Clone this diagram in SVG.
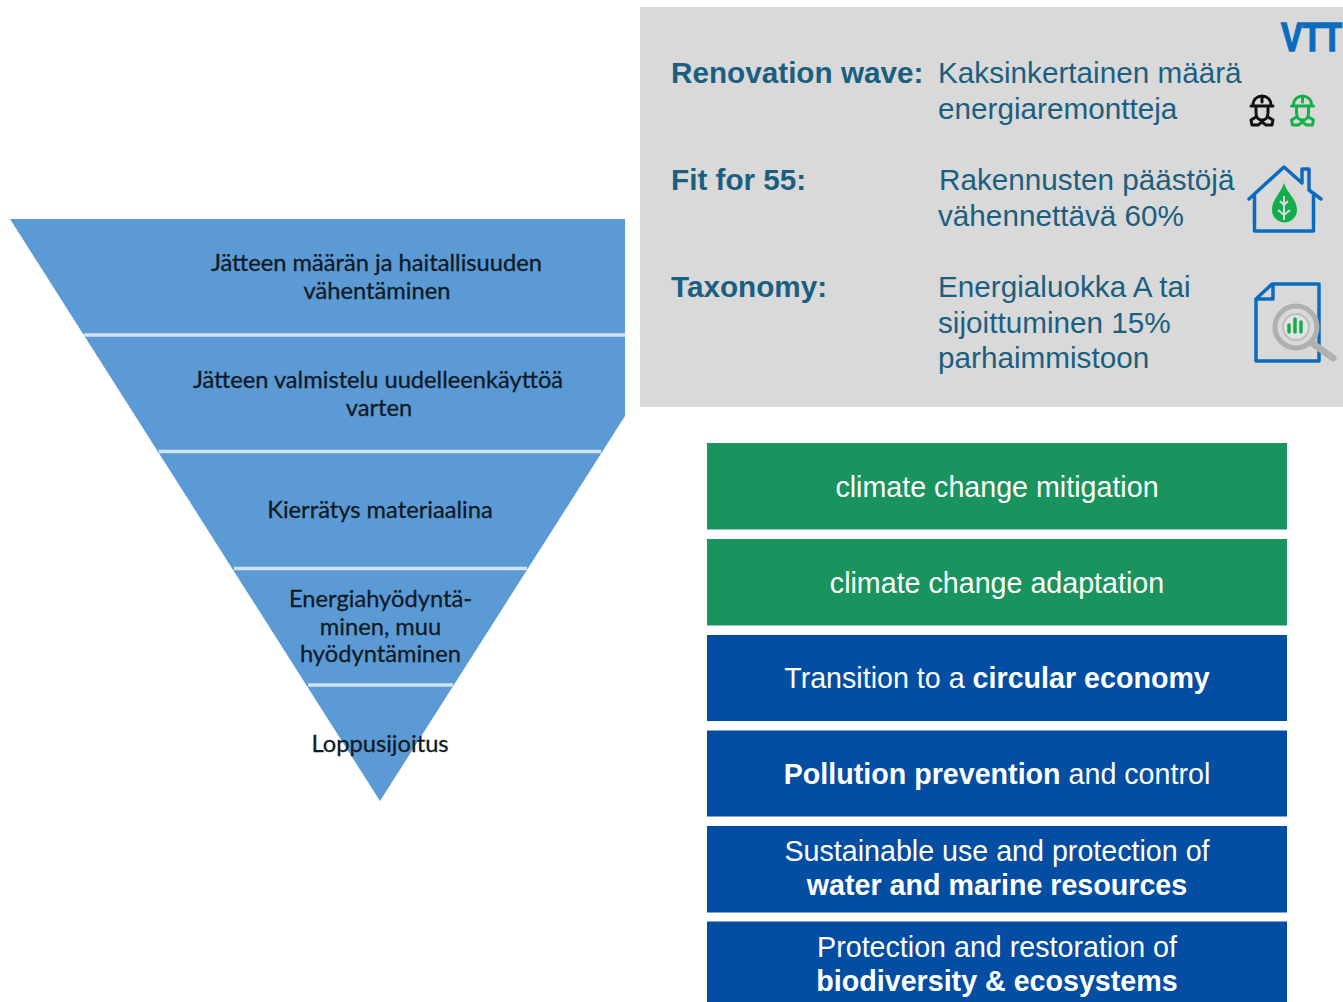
<svg xmlns="http://www.w3.org/2000/svg" width="1343" height="1002" viewBox="0 0 1343 1002">
<style>
.pt{font-family:"Lato","Open Sans",sans-serif;font-size:23.700px;fill:#0f1a24;stroke:#0f1a24;stroke-width:.3;text-anchor:middle}
.h{font-family:"Liberation Sans",Arial,sans-serif;font-size:29.700px;font-weight:700;fill:#1b5f80}
.b{font-family:"Liberation Sans",Arial,sans-serif;font-size:29.700px;fill:#1b5f80}
.w{font-family:"Liberation Sans",Arial,sans-serif;font-size:28.650px;fill:#fff;text-anchor:middle}
.w tspan.s{font-weight:700}
.g{fill:#19945f}.d{fill:#034ea2}
.sep{stroke:#d2e2f2;stroke-width:3.500;fill:none}
.ic{fill:none;stroke:#0b6cbd;stroke-width:3.500;stroke-linejoin:round;stroke-linecap:round}
</style>
<rect width="1343" height="1002" fill="#fff"/>
<g id="pyramid">
<polygon points="10,219 625,219 625,416 380,801" fill="#5b9ad5"/>
<line class="sep" x1="84" y1="335" x2="625" y2="335"/>
<line class="sep" x1="159" y1="451.500" x2="601" y2="451.500"/>
<line class="sep" x1="234" y1="568.500" x2="527" y2="568.500"/>
<line class="sep" x1="308" y1="685" x2="453" y2="685"/>
<text class="pt" x="376.500" y="271">Jätteen määrän ja haitallisuuden</text>
<text class="pt" x="377" y="298.500">vähentäminen</text>
<text class="pt" x="378" y="388">Jätteen valmistelu uudelleenkäyttöä</text>
<text class="pt" x="379" y="415.500">varten</text>
<text class="pt" x="380" y="518">Kierrätys materiaalina</text>
<text class="pt" x="380.500" y="607">Energiahyödyntä-</text>
<text class="pt" x="380.500" y="634.500">minen, muu</text>
<text class="pt" x="380.500" y="662">hyödyntäminen</text>
<text class="pt" x="380" y="751.500">Loppusijoitus</text>
</g>
<g id="policy-panel">
<rect x="640" y="7" width="703" height="400" fill="#d9d9d9"/>
<text x="1281" y="51" font-family="Liberation Sans,Arial,sans-serif" font-size="40" font-weight="700" fill="#0b6cbd" textLength="61" lengthAdjust="spacingAndGlyphs" stroke="#0b6cbd" stroke-width="1.500">VTT</text>
<text class="h" x="671" y="83">Renovation wave:</text>
<text class="b" x="938" y="83">Kaksinkertainen määrä</text>
<text class="b" x="938" y="119">energiaremontteja</text>
<text class="h" x="671" y="190">Fit for 55:</text>
<text class="b" x="939" y="190">Rakennusten päästöjä</text>
<text class="b" x="938" y="226">vähennettävä 60%</text>
<text class="h" x="671" y="297">Taxonomy:</text>
<text class="b" x="938" y="297">Energialuokka A tai</text>
<text class="b" x="938" y="333">sijoittuminen 15%</text>
<text class="b" x="938" y="368">parhaimmistoon</text>
</g>
<defs>
<g id="worker" fill="none" stroke-width="3" stroke-linecap="round" stroke-linejoin="round">
<path d="M1251 106h22M1253 105c0-12 18-12 18 0M1262 97v5"/>
<path d="M1256 108v5c0 5 3 7 6 7s6-2 6-7v-5M1256 117l-5 3 1 5h6l4-3 4 3h6l1-5-5-3"/>
</g>
</defs>
<g id="icon-workers">
<use href="#worker" stroke="#111"/>
<use href="#worker" stroke="#14b04c" x="40.500"/>
</g>
<g id="icon-house">
<path class="ic" d="M1249 199l35-32 18 16v-14h7v21l12 9M1254.500 195v36h59v-36"/>
<path d="M1284 183c-3 10-12 16-12 27a12.500 12.500 0 0 0 25 0c0-11-10-17-13-27z" fill="#14ad4d"/>
<path d="M1284 196v24M1284 205l4-4M1284 205l-4-4M1284 215l6-5M1284 215l-6-5" stroke="#d9d9d9" stroke-width="2" fill="none"/>
</g>
<g id="icon-report">
<path class="ic" d="M1272 284h47v77h-63v-62zM1273 286v13h-15"/>
<circle cx="1296" cy="327" r="21" fill="#d9d9d9" stroke="#b0b0b0" stroke-width="5"/>
<circle cx="1296" cy="327" r="13" fill="#e4e4e4" stroke="#bdbdbd" stroke-width="2"/>
<path d="M1312 343l21 15" stroke="#b0b0b0" stroke-width="7" stroke-linecap="round"/>
<path d="M1289 325v7M1295 319v13M1301 322v10" stroke="#14ad4d" stroke-width="3.500" stroke-linecap="round"/>
</g>
<g id="objective-1"><rect class="g" x="707" y="443" width="580" height="86.500"/><text class="w" x="997" y="497">climate change mitigation</text></g>
<g id="objective-2"><rect class="g" x="707" y="539" width="580" height="86.500"/><text class="w" x="997" y="593">climate change adaptation</text></g>
<g id="objective-3"><rect class="d" x="707" y="635" width="580" height="86"/><text class="w" x="997" y="688">Transition to a <tspan class="s">circular economy</tspan></text></g>
<g id="objective-4"><rect class="d" x="707" y="730.500" width="580" height="86"/><text class="w" x="997" y="784"><tspan class="s">Pollution prevention</tspan> and control</text></g>
<g id="objective-5"><rect class="d" x="707" y="826" width="580" height="86.500"/><text class="w" x="997" y="861">Sustainable use and protection of</text><text class="w" x="997" y="895"><tspan class="s">water and marine resources</tspan></text></g>
<g id="objective-6"><rect class="d" x="707" y="921.500" width="580" height="81"/><text class="w" x="997" y="957">Protection and restoration of</text><text class="w" x="997" y="991"><tspan class="s">biodiversity &amp; ecosystems</tspan></text></g>
</svg>
